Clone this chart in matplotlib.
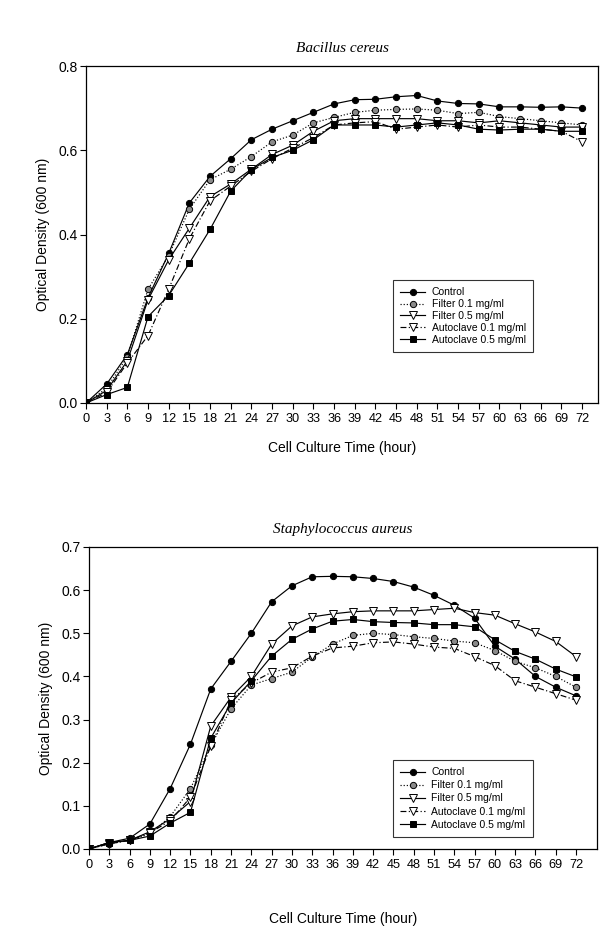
import matplotlib
matplotlib.use("Agg")
import matplotlib.pyplot as plt
import numpy as np

plt.rcParams['font.family'] = ['Liberation Sans', 'DejaVu Sans']

hours = list(range(0, 73, 3))
series_names = ["Control", "Filter 0.1 mg/ml", "Filter 0.5 mg/ml",
                "Autoclave 0.1 mg/ml", "Autoclave 0.5 mg/ml"]

# Bacillus cereus
bc_control = [0.0, 0.045, 0.115, 0.25, 0.355, 0.475, 0.538, 0.58, 0.625, 0.65, 0.67, 0.69,
              0.71, 0.72, 0.721, 0.727, 0.73, 0.717, 0.711, 0.71, 0.703, 0.703, 0.702, 0.703, 0.70]
bc_filter01 = [0.0, 0.035, 0.11, 0.27, 0.35, 0.46, 0.53, 0.555, 0.585, 0.62, 0.636, 0.665,
               0.678, 0.69, 0.695, 0.697, 0.698, 0.695, 0.687, 0.69, 0.68, 0.675, 0.67, 0.665, 0.66]
bc_filter05 = [0.0, 0.03, 0.1, 0.245, 0.34, 0.415, 0.49, 0.52, 0.555, 0.59, 0.612, 0.645,
               0.67, 0.675, 0.675, 0.675, 0.675, 0.67, 0.67, 0.665, 0.67, 0.665, 0.66, 0.655, 0.655]
bc_auto01 = [0.0, 0.025, 0.095, 0.16, 0.27, 0.39, 0.48, 0.515, 0.55, 0.58, 0.605, 0.63,
             0.66, 0.665, 0.668, 0.65, 0.655, 0.66, 0.655, 0.66, 0.655, 0.655, 0.65, 0.645, 0.62]
bc_auto05 = [0.0, 0.02, 0.037, 0.205, 0.255, 0.332, 0.412, 0.503, 0.554, 0.583, 0.60, 0.625,
             0.66, 0.66, 0.66, 0.655, 0.66, 0.665, 0.66, 0.65, 0.648, 0.65, 0.65, 0.645, 0.645]

# Staphylococcus aureus
sa_control = [0.0, 0.015, 0.025, 0.058, 0.14, 0.243, 0.371, 0.435, 0.50, 0.573, 0.61, 0.631,
              0.632, 0.631, 0.627, 0.62, 0.607, 0.588, 0.565, 0.535, 0.47, 0.44, 0.40, 0.375, 0.355]
sa_filter01 = [0.0, 0.012, 0.02, 0.035, 0.075, 0.14, 0.24, 0.325, 0.38, 0.395, 0.41, 0.445,
               0.475, 0.495, 0.50, 0.497, 0.492, 0.488, 0.482, 0.478, 0.46, 0.435, 0.42, 0.40, 0.375]
sa_filter05 = [0.0, 0.015, 0.02, 0.04, 0.07, 0.11, 0.285, 0.352, 0.40, 0.475, 0.517, 0.538,
               0.545, 0.55, 0.552, 0.552, 0.552, 0.555, 0.558, 0.548, 0.542, 0.522, 0.503, 0.481, 0.446]
sa_auto01 = [0.0, 0.012, 0.02, 0.038, 0.065, 0.12, 0.238, 0.345, 0.385, 0.41, 0.42, 0.447,
             0.466, 0.47, 0.478, 0.48, 0.475, 0.468, 0.465, 0.446, 0.425, 0.39, 0.375, 0.36, 0.345]
sa_auto05 = [0.0, 0.015, 0.02, 0.03, 0.06, 0.085, 0.257, 0.338, 0.39, 0.447, 0.486, 0.51,
             0.528, 0.532, 0.527, 0.525, 0.524, 0.52, 0.52, 0.515, 0.485, 0.458, 0.44, 0.417, 0.399]

bc_ticks = [0.0, 0.2, 0.4, 0.6, 0.8]
sa_ticks = [0.0, 0.1, 0.2, 0.3, 0.4, 0.5, 0.6, 0.7]

styles = [
    dict(linestyle='-', marker='o', mfc='black', ms=4.5),
    dict(linestyle=':', marker='o', mfc='#8a8a8a', ms=4.5),
    dict(linestyle='-', marker='v', mfc='white', ms=6),
    dict(linestyle=(0, (5, 2, 1, 2)), marker='v', mfc='white', ms=6),
    dict(linestyle='-', marker='s', mfc='black', ms=5),
]

fig = plt.figure(figsize=(6.01, 9.32), dpi=100)

def draw(ax, data, yticks, ylim, xlim, title, legend_anchor, xlabelpad, lspacing):
    for name, ys, st in zip(series_names, data, styles):
        ax.plot(hours, ys, color='black', lw=0.85, mec='black', mew=0.7,
                label=name, **st)
    ax.set_xlim(*xlim)
    ax.set_ylim(*ylim)
    ax.set_xticks(hours)
    ax.set_xticklabels([str(h) for h in hours], fontsize=9.2)
    ax.set_yticks(yticks)
    ax.set_yticklabels([f"{t:.1f}" for t in yticks], fontsize=10)
    ax.tick_params(direction='out', length=4, width=0.8, top=False, right=False, pad=2)
    ax.tick_params(axis='x', pad=3)
    for s in ax.spines.values():
        s.set_linewidth(0.9)
    ax.set_xlabel("Cell Culture Time (hour)", fontsize=10, labelpad=xlabelpad)
    ax.set_ylabel("Optical Density (600 nm)", fontsize=10, labelpad=6)
    ax.set_title(title, fontsize=11, style='italic',
                 family=['Liberation Serif', 'DejaVu Serif'], pad=10)
    leg = ax.legend(loc='upper left', bbox_to_anchor=legend_anchor, fontsize=7.5,
                    frameon=True, fancybox=False, edgecolor='black',
                    handlelength=2.4, labelspacing=lspacing, borderpad=0.7,
                    handletextpad=0.6, borderaxespad=0)
    leg.get_frame().set_linewidth(0.8)

ax1 = fig.add_axes([86/601, 1-403/932, (598-86)/601, (403-66)/932])
draw(ax1, [bc_control, bc_filter01, bc_filter05, bc_auto01, bc_auto05],
     bc_ticks, (0, 0.8), (0, 74.3), "Bacillus cereus", (0.6, 0.365), 12, 0.18)

ax2 = fig.add_axes([89/601, 1-849/932, (597-89)/601, (849-547)/932])
draw(ax2, [sa_control, sa_filter01, sa_filter05, sa_auto01, sa_auto05],
     sa_ticks, (0, 0.7), (0, 75.1), "Staphylococcus aureus", (0.598, 0.295), 30, 0.3)

fig.savefig("out.png", dpi=100)
